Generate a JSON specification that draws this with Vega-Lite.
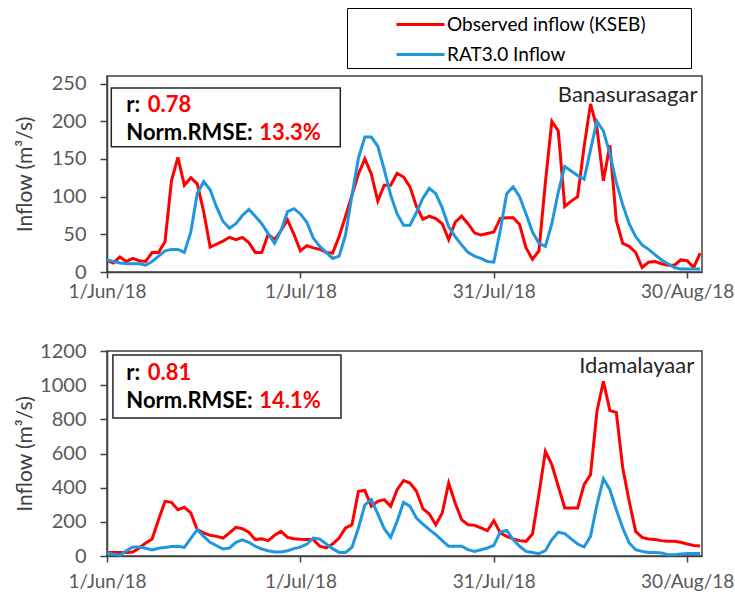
{
  "$schema": "https://vega.github.io/schema/vega-lite/v6.json",
  "background": "white",
  "padding": {"left": 13, "top": 6, "right": 5, "bottom": 5},
  "config": {
    "view": {"stroke": "#404040", "strokeWidth": 1.5},
    "font": "Lato",
    "axis": {"grid": false, "labelOverlap": false, "domainColor": "#404040", "domainWidth": 1.5, "tickColor": "#404040", "tickWidth": 1.5, "labelFont": "Lato", "labelFontSize": 20, "labelColor": "#595959", "titleFont": "Lato", "titleFontSize": 21, "titleFontWeight": "normal", "titleColor": "#404040"},
    "axisX": {"labelFontSize": 19}
  },
  "datasets": {
    "ban": [
      {"d":"2018-06-01","obs":15,"rat":16},{"d":"2018-06-02","obs":12,"rat":14},{"d":"2018-06-03","obs":20,"rat":12},{"d":"2018-06-04","obs":14,"rat":11},{"d":"2018-06-05","obs":18,"rat":11},{"d":"2018-06-06","obs":15,"rat":11},{"d":"2018-06-07","obs":14,"rat":9},{"d":"2018-06-08","obs":26,"rat":14},{"d":"2018-06-09","obs":26,"rat":21},{"d":"2018-06-10","obs":40,"rat":28},
      {"d":"2018-06-11","obs":121,"rat":30},{"d":"2018-06-12","obs":152,"rat":30},{"d":"2018-06-13","obs":115,"rat":26},{"d":"2018-06-14","obs":125,"rat":53},{"d":"2018-06-15","obs":117,"rat":104},{"d":"2018-06-16","obs":80,"rat":120},{"d":"2018-06-17","obs":33,"rat":109},{"d":"2018-06-18","obs":37,"rat":86},{"d":"2018-06-19","obs":41,"rat":67},{"d":"2018-06-20","obs":46,"rat":58},
      {"d":"2018-06-21","obs":43,"rat":64},{"d":"2018-06-22","obs":46,"rat":75},{"d":"2018-06-23","obs":39,"rat":83},{"d":"2018-06-24","obs":26,"rat":74},{"d":"2018-06-25","obs":26,"rat":64},{"d":"2018-06-26","obs":50,"rat":51},{"d":"2018-06-27","obs":43,"rat":38},{"d":"2018-06-28","obs":55,"rat":55},{"d":"2018-06-29","obs":69,"rat":80},{"d":"2018-06-30","obs":50,"rat":84},
      {"d":"2018-07-01","obs":28,"rat":77},{"d":"2018-07-02","obs":35,"rat":66},{"d":"2018-07-03","obs":32,"rat":45},{"d":"2018-07-04","obs":30,"rat":34},{"d":"2018-07-05","obs":26,"rat":26},{"d":"2018-07-06","obs":25,"rat":18},{"d":"2018-07-07","obs":47,"rat":21},{"d":"2018-07-08","obs":74,"rat":49},{"d":"2018-07-09","obs":102,"rat":102},{"d":"2018-07-10","obs":130,"rat":151},
      {"d":"2018-07-11","obs":150,"rat":179},{"d":"2018-07-12","obs":130,"rat":179},{"d":"2018-07-13","obs":94,"rat":167},{"d":"2018-07-14","obs":115,"rat":136},{"d":"2018-07-15","obs":115,"rat":102},{"d":"2018-07-16","obs":131,"rat":77},{"d":"2018-07-17","obs":126,"rat":62},{"d":"2018-07-18","obs":113,"rat":62},{"d":"2018-07-19","obs":87,"rat":79},{"d":"2018-07-20","obs":70,"rat":98},
      {"d":"2018-07-21","obs":74,"rat":111},{"d":"2018-07-22","obs":71,"rat":104},{"d":"2018-07-23","obs":64,"rat":85},{"d":"2018-07-24","obs":43,"rat":60},{"d":"2018-07-25","obs":66,"rat":47},{"d":"2018-07-26","obs":74,"rat":36},{"d":"2018-07-27","obs":64,"rat":26},{"d":"2018-07-28","obs":52,"rat":21},{"d":"2018-07-29","obs":49,"rat":18},{"d":"2018-07-30","obs":51,"rat":14},
      {"d":"2018-07-31","obs":53,"rat":13},{"d":"2018-08-01","obs":71,"rat":55},{"d":"2018-08-02","obs":72,"rat":104},{"d":"2018-08-03","obs":72,"rat":113},{"d":"2018-08-04","obs":63,"rat":100},{"d":"2018-08-05","obs":32,"rat":77},{"d":"2018-08-06","obs":17,"rat":53},{"d":"2018-08-07","obs":28,"rat":38},{"d":"2018-08-08","obs":119,"rat":34},{"d":"2018-08-09","obs":200,"rat":64},
      {"d":"2018-08-10","obs":187,"rat":106},{"d":"2018-08-11","obs":87,"rat":140},{"d":"2018-08-12","obs":94,"rat":134},{"d":"2018-08-13","obs":100,"rat":128},{"d":"2018-08-14","obs":166,"rat":123},{"d":"2018-08-15","obs":223,"rat":162},{"d":"2018-08-16","obs":191,"rat":200},{"d":"2018-08-17","obs":121,"rat":187},{"d":"2018-08-18","obs":168,"rat":157},{"d":"2018-08-19","obs":68,"rat":119},
      {"d":"2018-08-20","obs":38,"rat":89},{"d":"2018-08-21","obs":34,"rat":64},{"d":"2018-08-22","obs":26,"rat":47},{"d":"2018-08-23","obs":6,"rat":36},{"d":"2018-08-24","obs":13,"rat":30},{"d":"2018-08-25","obs":14,"rat":23},{"d":"2018-08-26","obs":11,"rat":16},{"d":"2018-08-27","obs":9,"rat":11},{"d":"2018-08-28","obs":9,"rat":6},{"d":"2018-08-29","obs":16,"rat":4},
      {"d":"2018-08-30","obs":15,"rat":4},{"d":"2018-08-31","obs":6,"rat":4},{"d":"2018-09-01","obs":25,"rat":4}
    ],
    "ida": [
      {"d":"2018-06-01","obs":20,"rat":20},{"d":"2018-06-02","obs":20,"rat":10},{"d":"2018-06-03","obs":20,"rat":5},{"d":"2018-06-04","obs":20,"rat":30},{"d":"2018-06-05","obs":23,"rat":53},{"d":"2018-06-06","obs":47,"rat":53},{"d":"2018-06-07","obs":76,"rat":45},{"d":"2018-06-08","obs":100,"rat":35},{"d":"2018-06-09","obs":213,"rat":45},{"d":"2018-06-10","obs":320,"rat":50},
      {"d":"2018-06-11","obs":314,"rat":55},{"d":"2018-06-12","obs":271,"rat":57},{"d":"2018-06-13","obs":285,"rat":50},{"d":"2018-06-14","obs":252,"rat":103},{"d":"2018-06-15","obs":154,"rat":154},{"d":"2018-06-16","obs":135,"rat":115},{"d":"2018-06-17","obs":121,"rat":80},{"d":"2018-06-18","obs":115,"rat":60},{"d":"2018-06-19","obs":105,"rat":41},{"d":"2018-06-20","obs":135,"rat":47},
      {"d":"2018-06-21","obs":168,"rat":80},{"d":"2018-06-22","obs":160,"rat":94},{"d":"2018-06-23","obs":139,"rat":80},{"d":"2018-06-24","obs":96,"rat":57},{"d":"2018-06-25","obs":101,"rat":41},{"d":"2018-06-26","obs":90,"rat":31},{"d":"2018-06-27","obs":121,"rat":23},{"d":"2018-06-28","obs":144,"rat":23},{"d":"2018-06-29","obs":109,"rat":31},{"d":"2018-06-30","obs":101,"rat":43},
      {"d":"2018-07-01","obs":98,"rat":52},{"d":"2018-07-02","obs":96,"rat":70},{"d":"2018-07-03","obs":96,"rat":105},{"d":"2018-07-04","obs":57,"rat":99},{"d":"2018-07-05","obs":47,"rat":70},{"d":"2018-07-06","obs":70,"rat":43},{"d":"2018-07-07","obs":105,"rat":21},{"d":"2018-07-08","obs":164,"rat":21},{"d":"2018-07-09","obs":183,"rat":51},{"d":"2018-07-10","obs":379,"rat":164},
      {"d":"2018-07-11","obs":384,"rat":300},{"d":"2018-07-12","obs":291,"rat":330},{"d":"2018-07-13","obs":320,"rat":246},{"d":"2018-07-14","obs":330,"rat":160},{"d":"2018-07-15","obs":291,"rat":109},{"d":"2018-07-16","obs":388,"rat":203},{"d":"2018-07-17","obs":441,"rat":314},{"d":"2018-07-18","obs":427,"rat":291},{"d":"2018-07-19","obs":379,"rat":222},{"d":"2018-07-20","obs":277,"rat":187},
      {"d":"2018-07-21","obs":246,"rat":154},{"d":"2018-07-22","obs":183,"rat":125},{"d":"2018-07-23","obs":252,"rat":90},{"d":"2018-07-24","obs":427,"rat":57},{"d":"2018-07-25","obs":310,"rat":57},{"d":"2018-07-26","obs":213,"rat":57},{"d":"2018-07-27","obs":183,"rat":37},{"d":"2018-07-28","obs":180,"rat":27},{"d":"2018-07-29","obs":164,"rat":37},{"d":"2018-07-30","obs":148,"rat":47},
      {"d":"2018-07-31","obs":207,"rat":62},{"d":"2018-08-01","obs":135,"rat":140},{"d":"2018-08-02","obs":115,"rat":150},{"d":"2018-08-03","obs":100,"rat":96},{"d":"2018-08-04","obs":90,"rat":57},{"d":"2018-08-05","obs":86,"rat":27},{"d":"2018-08-06","obs":129,"rat":21},{"d":"2018-08-07","obs":363,"rat":14},{"d":"2018-08-08","obs":613,"rat":31},{"d":"2018-08-09","obs":535,"rat":96},
      {"d":"2018-08-10","obs":408,"rat":139},{"d":"2018-08-11","obs":281,"rat":131},{"d":"2018-08-12","obs":281,"rat":100},{"d":"2018-08-13","obs":281,"rat":70},{"d":"2018-08-14","obs":418,"rat":53},{"d":"2018-08-15","obs":476,"rat":115},{"d":"2018-08-16","obs":847,"rat":300},{"d":"2018-08-17","obs":1022,"rat":453},{"d":"2018-08-18","obs":851,"rat":388},{"d":"2018-08-19","obs":841,"rat":271},
      {"d":"2018-08-20","obs":515,"rat":164},{"d":"2018-08-21","obs":320,"rat":76},{"d":"2018-08-22","obs":144,"rat":37},{"d":"2018-08-23","obs":109,"rat":27},{"d":"2018-08-24","obs":100,"rat":21},{"d":"2018-08-25","obs":96,"rat":21},{"d":"2018-08-26","obs":90,"rat":18},{"d":"2018-08-27","obs":86,"rat":8},{"d":"2018-08-28","obs":86,"rat":8},{"d":"2018-08-29","obs":80,"rat":12},
      {"d":"2018-08-30","obs":70,"rat":14},{"d":"2018-08-31","obs":62,"rat":14},{"d":"2018-09-01","obs":59,"rat":14}
    ]
  },
  "spacing": 38,
  "vconcat": [
    {
      "width": 595,
      "height": 196,
      "layer": [
        {
          "data": {"name": "ban"},
          "transform": [{"fold": ["obs", "rat"], "as": ["s", "v"]}],
          "mark": {"type": "line", "strokeWidth": 3},
          "encoding": {
            "x": {"field": "d", "type": "temporal", "title": null,
              "scale": {"type": "utc", "domain": [{"year": 2018, "month": 6, "date": 1, "utc": true}, {"year": 2018, "month": 9, "date": 1, "hours": 7, "utc": true}]},
              "axis": {"values": [{"year": 2018, "month": 6, "date": 1, "utc": true}, {"year": 2018, "month": 7, "date": 1, "utc": true}, {"year": 2018, "month": 7, "date": 31, "utc": true}, {"year": 2018, "month": 8, "date": 30, "utc": true}], "format": "%-d/%b/%y", "labelFlush": false, "labelOverlap": false, "tickSize": 6, "labelPadding": 4}},
            "y": {"field": "v", "type": "quantitative", "title": "Inflow (m³/s)",
              "scale": {"domain": [0, 250]},
              "axis": {"values": [0, 50, 100, 150, 200, 250], "tickCount": 6, "labelOverlap": false, "format": "d", "tickSize": 7, "labelPadding": 14, "titlePadding": 16, "titleFontSize": 21, "titleFont": "Lato"}},
            "color": {"field": "s", "type": "nominal",
              "scale": {"domain": ["obs", "rat"], "range": ["#FF0000", "#1F97DE"]},
              "legend": {"orient": "none", "legendX": 240, "legendY": -68, "title": null, "strokeColor": "#000000", "padding": 3,
                "symbolType": "M-2,0H2", "symbolSize": 576, "symbolStrokeWidth": 3, "symbolOffset": 57, "labelOffset": 13,
                "labelFont": "Lato", "labelFontSize": 19, "labelColor": "#000000", "labelLimit": 500, "rowPadding": 6,
                "labelExpr": "datum.label == 'obs' ? 'Observed inflow (KSEB)\u2800\u2800\u2800' : 'RAT3.0 Inflow'"}}
          }
        },
        {
          "data": {"values": [{"x1": "2018-06-01T16:00:00Z", "x2": "2018-07-07T04:30:00Z", "y1": 166, "y2": 244}]},
          "mark": {"type": "rect", "fill": "white", "stroke": "#262626", "strokeWidth": 1.5},
          "encoding": {
            "x": {"field": "x1", "type": "temporal", "title": null},
            "x2": {"field": "x2"},
            "y": {"field": "y1", "type": "quantitative", "title": "Inflow (m³/s)"},
            "y2": {"field": "y2"}
          }
        },
        {
          "data": {"values": [
            {"t": "r:", "x": "2018-06-04T00:00:00Z", "y": 222, "k": "lab"},
            {"t": "Norm.RMSE:", "x": "2018-06-04T00:00:00Z", "y": 185, "k": "lab"},
            {"t": "0.78", "x": "2018-06-07T08:00:00Z", "y": 222, "k": "val"},
            {"t": "13.3%", "x": "2018-06-24T15:00:00Z", "y": 185, "k": "val"}
          ]},
          "mark": {"type": "text", "align": "left", "baseline": "middle", "font": "Lato", "fontSize": 22, "fontWeight": "bold"},
          "encoding": {
            "x": {"field": "x", "type": "temporal", "title": null},
            "y": {"field": "y", "type": "quantitative", "title": "Inflow (m³/s)"},
            "text": {"field": "t"},
            "color": {"field": "k", "type": "nominal", "scale": {"domain": ["lab", "val"], "range": ["#000000", "#FF0000"]}, "legend": null}
          }
        },
        {
          "data": {"values": [{"t": "Banasurasagar", "x": "2018-08-31T14:00:00Z", "y": 235}]},
          "mark": {"type": "text", "align": "right", "baseline": "middle", "font": "Lato", "fontSize": 22, "color": "#262626"},
          "encoding": {
            "x": {"field": "x", "type": "temporal", "title": null},
            "y": {"field": "y", "type": "quantitative", "title": "Inflow (m³/s)"},
            "text": {"field": "t"}
          }
        }
      ],
      "resolve": {"scale": {"color": "independent"}, "legend": {"color": "independent"}}
    },
    {
      "width": 595,
      "height": 205,
      "layer": [
        {
          "data": {"name": "ida"},
          "transform": [{"fold": ["obs", "rat"], "as": ["s", "v"]}],
          "mark": {"type": "line", "strokeWidth": 3},
          "encoding": {
            "x": {"field": "d", "type": "temporal", "title": null,
              "scale": {"type": "utc", "domain": [{"year": 2018, "month": 6, "date": 1, "utc": true}, {"year": 2018, "month": 9, "date": 1, "hours": 7, "utc": true}]},
              "axis": {"values": [{"year": 2018, "month": 6, "date": 1, "utc": true}, {"year": 2018, "month": 7, "date": 1, "utc": true}, {"year": 2018, "month": 7, "date": 31, "utc": true}, {"year": 2018, "month": 8, "date": 30, "utc": true}], "format": "%-d/%b/%y", "labelFlush": false, "labelOverlap": false, "tickSize": 6, "labelPadding": 10}},
            "y": {"field": "v", "type": "quantitative", "title": "Inflow (m³/s)",
              "scale": {"domain": [0, 1200]},
              "axis": {"values": [0, 200, 400, 600, 800, 1000, 1200], "tickCount": 7, "labelOverlap": false, "format": "d", "tickSize": 7, "labelPadding": 14, "titlePadding": 4, "titleFontSize": 21, "titleFont": "Lato"}},
            "color": {"field": "s", "type": "nominal",
              "scale": {"domain": ["obs", "rat"], "range": ["#FF0000", "#1F97DE"]}, "legend": null}
          }
        },
        {
          "data": {"values": [{"x1": "2018-06-01T22:00:00Z", "x2": "2018-07-07T07:00:00Z", "y1": 808, "y2": 1177}]},
          "mark": {"type": "rect", "fill": "white", "stroke": "#262626", "strokeWidth": 1.5},
          "encoding": {
            "x": {"field": "x1", "type": "temporal", "title": null},
            "x2": {"field": "x2"},
            "y": {"field": "y1", "type": "quantitative", "title": "Inflow (m³/s)"},
            "y2": {"field": "y2"}
          }
        },
        {
          "data": {"values": [
            {"t": "r:", "x": "2018-06-04T00:00:00Z", "y": 1071, "k": "lab"},
            {"t": "Norm.RMSE:", "x": "2018-06-04T00:00:00Z", "y": 907, "k": "lab"},
            {"t": "0.81", "x": "2018-06-07T08:00:00Z", "y": 1071, "k": "val"},
            {"t": "14.1%", "x": "2018-06-24T15:00:00Z", "y": 907, "k": "val"}
          ]},
          "mark": {"type": "text", "align": "left", "baseline": "middle", "font": "Lato", "fontSize": 22, "fontWeight": "bold"},
          "encoding": {
            "x": {"field": "x", "type": "temporal", "title": null},
            "y": {"field": "y", "type": "quantitative", "title": "Inflow (m³/s)"},
            "text": {"field": "t"},
            "color": {"field": "k", "type": "nominal", "scale": {"domain": ["lab", "val"], "range": ["#000000", "#FF0000"]}, "legend": null}
          }
        },
        {
          "data": {"values": [{"t": "Idamalayaar", "x": "2018-08-31T02:00:00Z", "y": 1112}]},
          "mark": {"type": "text", "align": "right", "baseline": "middle", "font": "Lato", "fontSize": 22, "color": "#262626"},
          "encoding": {
            "x": {"field": "x", "type": "temporal", "title": null},
            "y": {"field": "y", "type": "quantitative", "title": "Inflow (m³/s)"},
            "text": {"field": "t"}
          }
        }
      ],
      "resolve": {"scale": {"color": "independent"}}
    }
  ]
}
